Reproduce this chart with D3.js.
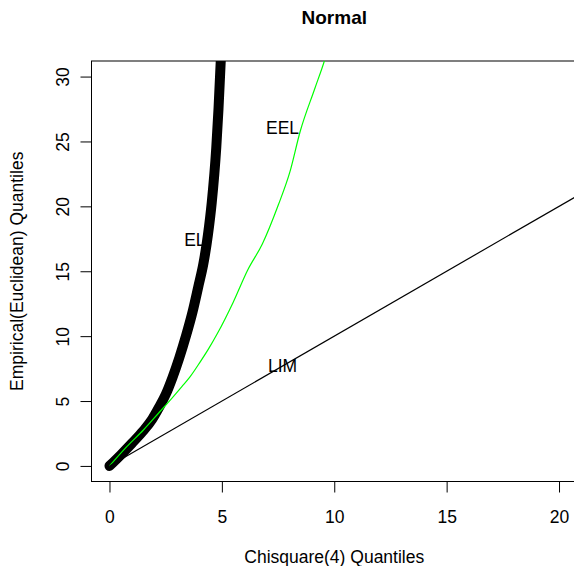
<!DOCTYPE html>
<html>
<head>
<meta charset="utf-8">
<script src="https://cdn.jsdelivr.net/npm/d3@7"></script>
<style>
  body { margin: 0; background: #fff; }
  svg text { font-family: "Liberation Sans", Arial, sans-serif; }
</style>
</head>
<body>
<div id="chart"></div>
<script>
// chi-square(4) quantiles vs empirical quantiles
const elX  = [0, 0.5, 1.0, 1.5, 1.9, 2.2, 2.5, 2.8, 3.1, 3.4, 3.7, 3.95, 4.18, 4.38, 4.55, 4.75, 4.85, 4.95, 5.02];
const elY  = [0, 0.85, 1.75, 2.7, 3.6, 4.5, 5.5, 6.8, 8.3, 10.0, 11.9, 13.8, 15.6, 17.8, 20.3, 24.5, 27.5, 31.2, 33.5];
const eelX = [0, 0.77, 1.51, 2.18, 2.84, 3.22, 3.59, 4.03, 4.4, 4.8, 5.5, 6.15, 6.8, 7.51, 8.03, 8.48, 9.14, 9.56, 9.7];
const eelY = [0, 1.49, 2.77, 4.06, 5.34, 6.11, 6.88, 8.0, 9.0, 10.2, 12.6, 15.1, 17.1, 20.1, 22.67, 25.75, 29.1, 31.2, 32];
const limX = [0, 21];
const limY = [0, 21];
const xTicks = [0, 5, 10, 15, 20];
const yTicks = [0, 5, 10, 15, 20, 25, 30];
const curveLabels = ["EL", "EEL", "LIM"];
const labelX = [3.8, 7.7, 7.7];
const labelY = [17.4, 26.05, 7.7];

const width = 574, height = 566;
const plot = { left: 91.5, right: 577, top: 61, bottom: 481.5 };
const fs = 17.5;

const svg = d3.select("#chart").append("svg")
  .attr("width", width)
  .attr("height", height);

const x = d3.scaleLinear().domain([-0.8, 20.8]).range([plot.left, plot.right]);
const y = d3.scaleLinear().domain([-1.2, 31.2]).range([plot.bottom, plot.top]);

svg.append("defs").append("clipPath").attr("id", "clip")
  .append("rect")
  .attr("x", plot.left).attr("y", plot.top)
  .attr("width", plot.right - plot.left).attr("height", plot.bottom - plot.top);

// axes
const xAxis = svg.append("g")
  .attr("transform", `translate(0,${plot.bottom})`)
  .call(d3.axisBottom(x).tickValues(xTicks).tickSize(11).tickPadding(18).tickSizeOuter(0));
xAxis.select(".domain").remove();
xAxis.selectAll("text").attr("font-size", fs).attr("font-family", null).attr("fill", "#000");
xAxis.selectAll("line").attr("stroke", "#000");

const yAxis = svg.append("g")
  .attr("transform", `translate(${plot.left},0)`)
  .call(d3.axisLeft(y).tickValues(yTicks).tickSize(11).tickSizeOuter(0));
yAxis.select(".domain").remove();
yAxis.selectAll("line").attr("stroke", "#000");
yAxis.selectAll("text")
  .attr("font-size", fs).attr("font-family", null).attr("fill", "#000")
  .attr("x", null).attr("dy", null)
  .attr("text-anchor", "middle")
  .attr("transform", "translate(-23,0) rotate(-90)");

svg.append("rect")
  .attr("x", plot.left).attr("y", plot.top)
  .attr("width", plot.right - plot.left).attr("height", plot.bottom - plot.top)
  .attr("fill", "none").attr("stroke", "#000").attr("stroke-width", 1);

const g = svg.append("g").attr("clip-path", "url(#clip)");

const line = d3.line().x(d => x(d[0])).y(d => y(d[1])).curve(d3.curveMonotoneX);

g.append("path")
  .attr("d", line(d3.zip(elX, elY)))
  .attr("fill", "none").attr("stroke", "#000")
  .attr("stroke-width", 10).attr("stroke-linecap", "round").attr("stroke-linejoin", "round");

g.append("path")
  .attr("d", line(d3.zip(eelX, eelY)))
  .attr("fill", "none").attr("stroke", "#00ff00").attr("stroke-width", 1.2);

g.append("path")
  .attr("d", d3.line().x(d => x(d[0])).y(d => y(d[1]))(d3.zip(limX, limY)))
  .attr("fill", "none").attr("stroke", "#000").attr("stroke-width", 1.2);

svg.selectAll(".lbl")
  .data(curveLabels)
  .enter().append("text")
  .attr("class", "lbl")
  .attr("x", (d, i) => x(labelX[i]))
  .attr("y", (d, i) => y(labelY[i]))
  .attr("dy", "0.36em")
  .attr("text-anchor", "middle")
  .attr("font-size", fs)
  .text(d => d);

// titles
svg.append("text")
  .attr("x", (plot.left + plot.right) / 2).attr("y", 24)
  .attr("text-anchor", "middle")
  .attr("font-size", 19).attr("font-weight", "bold")
  .text("Normal");

svg.append("text")
  .attr("x", (plot.left + plot.right) / 2).attr("y", 563)
  .attr("text-anchor", "middle")
  .attr("font-size", fs)
  .text("Chisquare(4) Quantiles");

svg.append("text")
  .attr("transform", `translate(23,${(plot.top + plot.bottom) / 2}) rotate(-90)`)
  .attr("text-anchor", "middle")
  .attr("font-size", fs)
  .text("Empirical(Euclidean) Quantiles");
</script>
</body>
</html>
